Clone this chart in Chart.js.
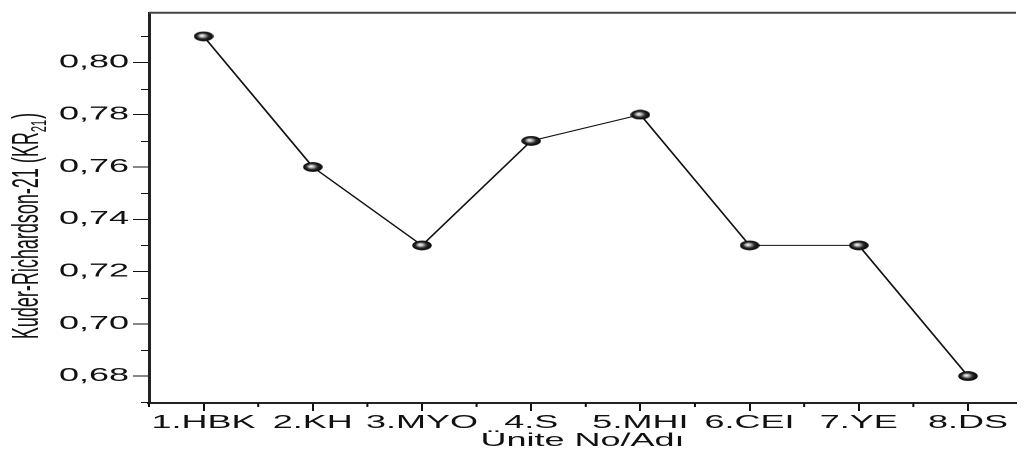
<!DOCTYPE html>
<html>
<head>
<meta charset="utf-8">
<script src="https://cdn.jsdelivr.net/npm/chart.js@4.4.1/dist/chart.umd.min.js"></script>
<style>
  html, body { margin: 0; padding: 0; background: #fff; overflow: hidden; }
  /* the original picture is stretched 2x horizontally */
  #wrap { width: 514px; height: 451px; transform: scaleX(2); transform-origin: 0 0; }
</style>
</head>
<body>
<div id="wrap"><canvas id="chart" width="514" height="451"></canvas></div>
<script>
const categories = ["1.HBK", "2.KH", "3.MYO", "4.S", "5.MHI", "6.CEI", "7.YE", "8.DS"];
const kr21 = [0.81, 0.76, 0.73, 0.77, 0.78, 0.73, 0.73, 0.68];
const yTickValues = [0.68, 0.70, 0.72, 0.74, 0.76, 0.78, 0.80];
const xTitle = "Ünite No/Adı";
const yTitleMain = "Kuder-Richardson-21 (KR";
const yTitleSub = "21";
const yTitleEnd = ")";

const FONT = '"Liberation Sans", Arial, sans-serif';
const INK = "#111";

// shiny black ball used as point marker
function ballImage() {
  const c = document.createElement("canvas");
  c.width = c.height = 40;
  const g = c.getContext("2d");
  const grad = g.createRadialGradient(16, 17, 0, 20, 20, 20);
  grad.addColorStop(0, "#ffffff");
  grad.addColorStop(0.25, "#bbbbbb");
  grad.addColorStop(0.58, "#2a2a2a");
  grad.addColorStop(1, "#000000");
  g.fillStyle = grad;
  g.beginPath();
  g.arc(20, 20, 19.5, 0, Math.PI * 2);
  g.fill();
  const img = new Image();
  img.width = 10;
  img.height = 10;
  img.src = c.toDataURL();
  return img;
}

const frame = {
  id: "frame",
  afterDraw(chart) {
    const { ctx, chartArea } = chart;
    const xs = chart.scales.x, ys = chart.scales.y;
    ctx.save();
    // top border
    ctx.strokeStyle = "#444";
    ctx.lineWidth = 2;
    ctx.beginPath();
    ctx.moveTo(chartArea.left, chartArea.top);
    ctx.lineTo(chartArea.right, chartArea.top);
    ctx.stroke();

    // minor ticks
    ctx.strokeStyle = INK;
    ctx.lineWidth = 1;
    ctx.beginPath();
    for (let i = 0; i <= categories.length; i++) {
      const px = xs.getPixelForValue(i + 0.5);
      if (px > chartArea.right) continue;
      ctx.moveTo(px, chartArea.bottom);
      ctx.lineTo(px, chartArea.bottom + 4);
    }
    const minorY = yTickValues.map((v) => v - 0.01).concat([yTickValues[yTickValues.length - 1] + 0.01]);
    minorY.forEach((v) => {
      const py = Math.round(ys.getPixelForValue(v)) + 0.5;
      ctx.moveTo(chartArea.left - 4, py);
      ctx.lineTo(chartArea.left, py);
    });
    ctx.stroke();

    // y title with subscript
    ctx.fillStyle = INK;
    ctx.translate(19, 226);
    ctx.rotate(-Math.PI / 2);
    ctx.textBaseline = "alphabetic";
    ctx.font = "18px " + FONT;
    const w1 = ctx.measureText(yTitleMain).width;
    const w3 = ctx.measureText(yTitleEnd).width;
    ctx.font = "11px " + FONT;
    const w2 = ctx.measureText(yTitleSub).width;
    let sx = -(w1 + w2 + w3 + 1) / 2;
    ctx.font = "18px " + FONT;
    ctx.fillText(yTitleMain, sx, 0);
    ctx.font = "11px " + FONT;
    ctx.fillText(yTitleSub, sx + w1, 4);
    ctx.font = "18px " + FONT;
    ctx.fillText(yTitleEnd, sx + w1 + w2 + 1, 0);
    ctx.restore();
  },
};

function draw(ball) {
  new Chart(document.getElementById("chart"), {
    type: "line",
    data: {
      datasets: [{
        data: kr21.map((v, i) => ({ x: i + 1, y: v })),
        borderColor: INK,
        borderWidth: 1,
        pointStyle: ball,
        pointRadius: 5,
        pointHoverRadius: 5,
        tension: 0,
        fill: false,
      }],
    },
    options: {
      responsive: false,
      devicePixelRatio: 2,
      animation: false,
      layout: { padding: { top: 10, right: 0, left: 0, bottom: 0 } },
      plugins: { legend: { display: false }, tooltip: { enabled: false } },
      scales: {
        x: {
          type: "linear",
          min: 0.5,
          max: 8.44,
          afterBuildTicks: (axis) => { axis.ticks = categories.map((c, i) => ({ value: i + 1 })); },
          afterFit: (axis) => { axis.height = 48; },
          grid: { drawOnChartArea: false, drawTicks: true, tickLength: 8, tickColor: INK, tickWidth: 1 },
          border: { color: "#222", width: 2 },
          ticks: {
            color: INK,
            padding: 1,
            maxRotation: 0,
            autoSkip: false,
            font: { family: FONT, size: 18 },
            callback: (v) => categories[Math.round(v) - 1],
          },
          title: {
            display: true,
            text: xTitle,
            color: INK,
            font: { family: FONT, size: 18 },
            padding: { top: 0, bottom: -1 },
          },
        },
        y: {
          min: 0.6697,
          max: 0.819,
          afterBuildTicks: (axis) => { axis.ticks = yTickValues.map((v) => ({ value: v })); },
          afterFit: (axis) => { axis.width = 74.5; },
          grid: { drawOnChartArea: false, drawTicks: true, tickLength: 8, tickColor: INK, tickWidth: 1 },
          border: { color: "#222", width: 1.5 },
          ticks: {
            color: INK,
            padding: 2,
            font: { family: FONT, size: 18 },
            callback: (v) => v.toFixed(2).replace(".", ","),
          },
        },
      },
    },
    plugins: [frame],
  });
}

const ball = ballImage();
ball.onload = () => draw(ball);
</script>
</body>
</html>
